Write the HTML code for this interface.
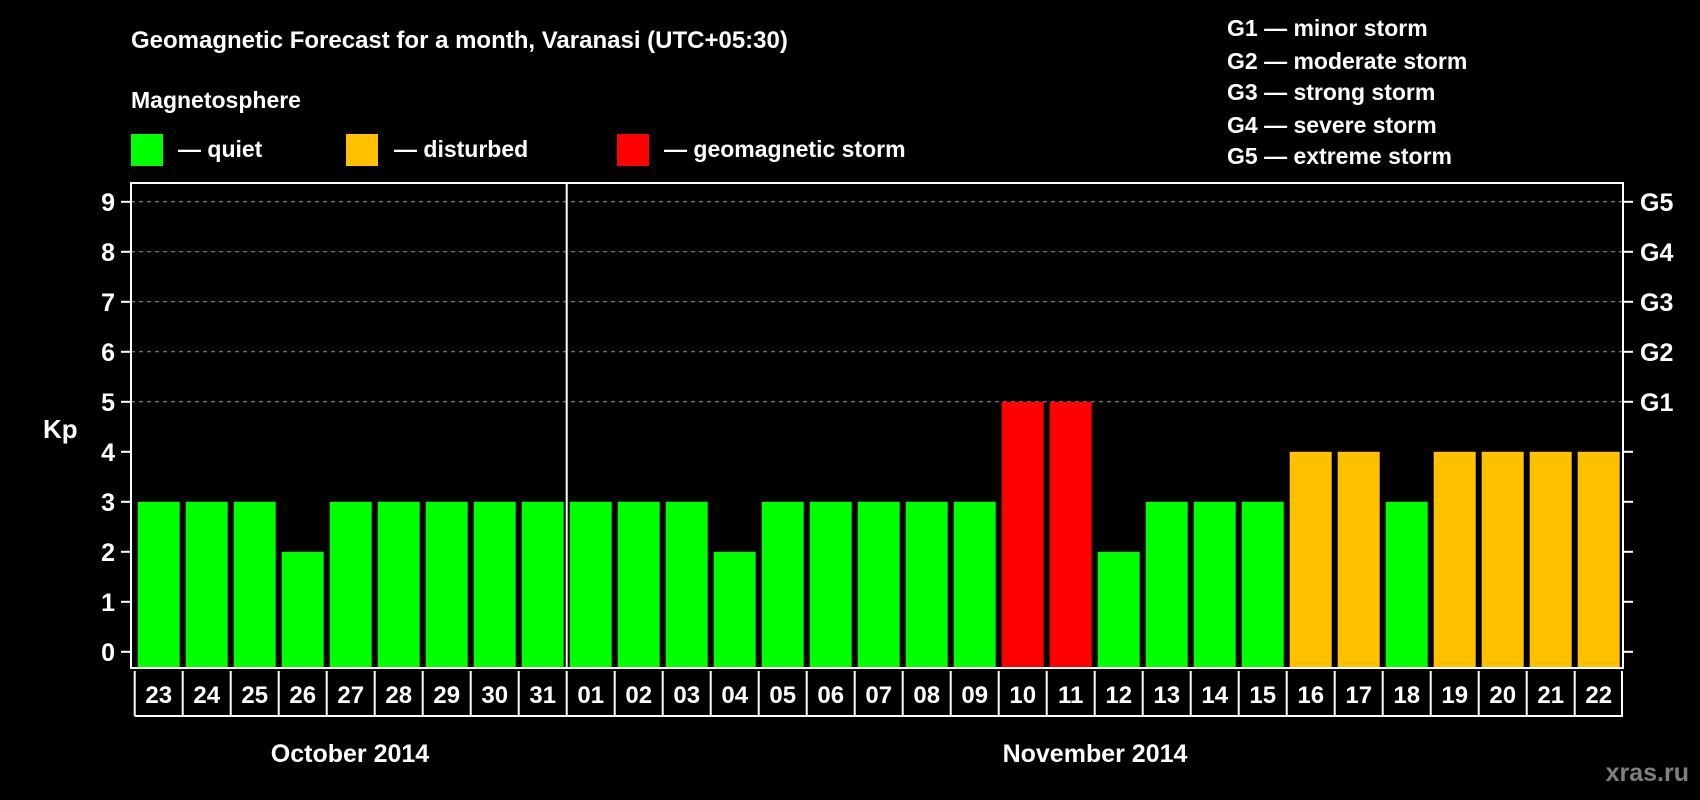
<!DOCTYPE html>
<html><head><meta charset="utf-8"><style>
html,body{margin:0;padding:0;background:#000;width:1700px;height:800px;overflow:hidden}
svg{display:block;font-family:"Liberation Sans",sans-serif;font-weight:bold}
</style></head><body>
<svg id="chart" width="1700" height="800" viewBox="0 0 1700 800">
<rect width="1700" height="800" fill="#000"/>
<text x="131" y="48" fill="#fff" font-size="24">Geomagnetic Forecast for a month, Varanasi (UTC+05:30)</text>
<text x="131" y="108" fill="#fff" font-size="23">Magnetosphere</text>
<g><rect x="131" y="134" width="32" height="32" fill="#00ff00"/><text x="178" y="157" fill="#fff" font-size="23">— quiet</text></g>
<g><rect x="346" y="134" width="32" height="32" fill="#ffc000"/><text x="394" y="157" fill="#fff" font-size="23">— disturbed</text></g>
<g><rect x="617" y="134" width="32" height="32" fill="#ff0000"/><text x="664" y="157" fill="#fff" font-size="23">— geomagnetic storm</text></g>
<g fill="#fff" font-size="23">
<text x="1227" y="36">G1 — minor storm</text>
<text x="1227" y="69">G2 — moderate storm</text>
<text x="1227" y="100">G3 — strong storm</text>
<text x="1227" y="133">G4 — severe storm</text>
<text x="1227" y="164">G5 — extreme storm</text>
</g>
<g id="grid"></g>
<g id="bars"></g>
<g id="axes"></g>
<text x="43" y="438" fill="#fff" font-size="26">Kp</text>
<text x="350" y="762" fill="#fff" font-size="25" text-anchor="middle">October 2014</text>
<text x="1095" y="762" fill="#fff" font-size="25" text-anchor="middle">November 2014</text>
<text x="1689" y="781" fill="#808080" font-size="25" text-anchor="end">xras.ru</text>
</svg>
<script>
const days = ["23","24","25","26","27","28","29","30","31","01","02","03","04","05","06","07","08","09","10","11","12","13","14","15","16","17","18","19","20","21","22"];
const kpValues = [3,3,3,2,3,3,3,3,3,3,3,3,2,3,3,3,3,3,5,5,2,3,3,3,4,4,3,4,4,4,4];
const yTicks = [0,1,2,3,4,5,6,7,8,9];
const gLabels = ["G1","G2","G3","G4","G5"];
const gLevels = [5,6,7,8,9];

const NS="http://www.w3.org/2000/svg";
const L=131,R=1623,T=183,B=668;
const x0=137.7,pitch=48,bw=42;
const y=v=>651.8-v*50;
const xb=i=>x0+i*pitch;
function mk(tag,attrs,parent){const e=document.createElementNS(NS,tag);for(const k in attrs)e.setAttribute(k,attrs[k]);parent.appendChild(e);return e;}
const grid=document.getElementById('grid'),bars=document.getElementById('bars'),axes=document.getElementById('axes');
gLevels.forEach(v=>{
  const ln=mk('line',{x1:L,x2:R,y1:y(v),y2:y(v),stroke:'#999','stroke-width':1,'stroke-dasharray':'4,4'},grid);
  
  
});
kpValues.forEach((v,i)=>{
  const c=v>=5?'#ff0000':(v>=4?'#ffc000':'#00ff00');
  const r=mk('rect',{x:xb(i),y:y(v),width:bw,height:B-y(v),fill:c},bars);
  
  
});
const frame=mk('rect',{x:L,y:T,width:R-L,height:B-T,fill:'none',stroke:'#fff','stroke-width':2},axes);


const div=mk('line',{x1:xb(9)-3,x2:xb(9)-3,y1:T,y2:B,stroke:'#fff','stroke-width':2},axes);


yTicks.forEach(v=>{
  mk('line',{x1:L-10,x2:L,y1:y(v),y2:y(v),stroke:'#fff','stroke-width':2},axes);
  mk('line',{x1:R,x2:R+10,y1:y(v),y2:y(v),stroke:'#fff','stroke-width':2},axes);
  const t=mk('text',{x:115,y:y(v)+9,fill:'#fff','font-size':25,'text-anchor':'end'},axes);
  t.textContent=v;
  
  
});
gLabels.forEach((g,i)=>{
  const t=mk('text',{x:1640,y:y(gLevels[i])+9,fill:'#fff','font-size':25},axes);
  t.textContent=g;
  
  
});
const boxTop=671,boxBot=716;
mk('line',{x1:xb(0)-3,x2:R,y1:boxBot,y2:boxBot,stroke:'#fff','stroke-width':2},axes);
days.forEach((d,i)=>{
  mk('line',{x1:xb(i)-3,x2:xb(i)-3,y1:boxTop,y2:boxBot,stroke:'#fff','stroke-width':2},axes);
  const t=mk('text',{x:xb(i)+bw/2,y:703,fill:'#fff','font-size':24,'text-anchor':'middle'},axes);
  t.textContent=d;
  
  
});
mk('line',{x1:R-1,x2:R-1,y1:boxTop,y2:boxBot,stroke:'#fff','stroke-width':2},axes);
</script>
</body></html>
